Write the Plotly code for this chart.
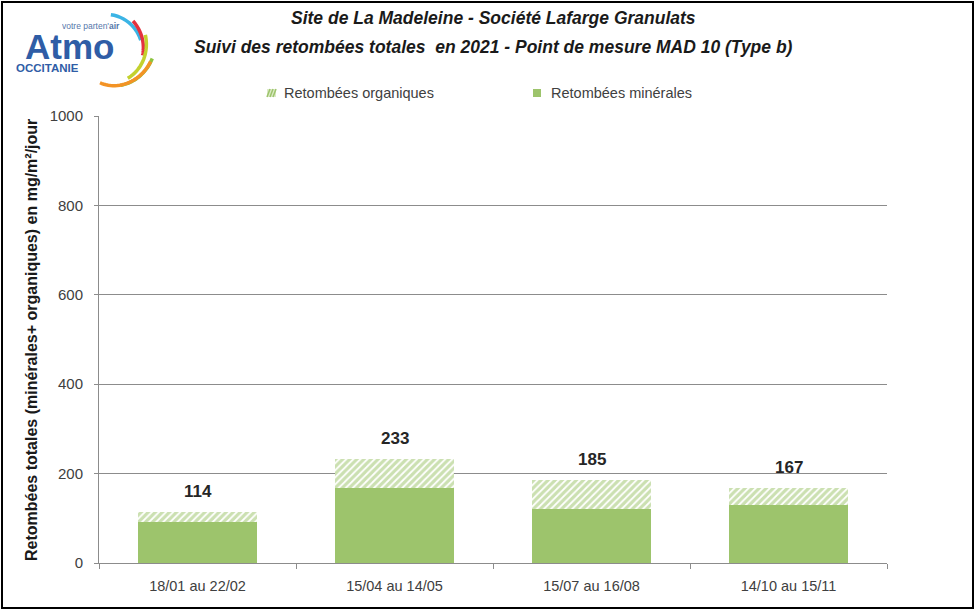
import math
import plotly.graph_objects as go

categories = ["18/01 au 22/02", "15/04 au 14/05", "15/07 au 16/08", "14/10 au 15/11"]
minerales = [92, 167, 120, 130]
organiques = [22, 66, 65, 37]
totals = [114, 233, 185, 167]
y_ticks = [0, 200, 400, 600, 800, 1000]

W, H = 976, 611
L, R, T, B = 99, 887, 116, 563
GREEN = "#9DC46C"
FONT = "Liberation Sans, Arial, sans-serif"


def px(x):
    return (x - L) / (R - L)


def py(y):
    return (B - y) / (B - T)


fig = go.Figure()
fig.add_trace(go.Bar(
    x=categories, y=minerales, name="Retombées minérales", showlegend=False,
    marker=dict(color=GREEN, line=dict(width=0)),
))
fig.add_trace(go.Bar(
    x=categories, y=organiques, name="Retombées organiques", showlegend=False,
    marker=dict(color="white", line=dict(width=0),
                pattern=dict(shape="/", fgcolor="#98C163", bgcolor="white", size=5, solidity=0.65)),
))

shapes = []
# outer frame
shapes.append(dict(type="rect", xref="paper", yref="paper",
                   x0=px(2), x1=px(973), y0=py(2), y1=py(608),
                   line=dict(color="black", width=2)))
# logo arcs (angle deg start->end, radius start->end), centre in pixels
cx, cy = 104, 50
arcs = [
    ("#3BB4E5", -79, -15, 36, 38),
    ("#E4323F", -45, 8, 41, 39),
    ("#C3D12E", -20, 50, 44, 37),
    ("#8CC43F", 10, 65, 49, 39),
    ("#F39325", 14, 97, 48, 33),
]
for col, a0, a1, r0, r1 in arcs:
    pts = []
    n = 24
    for i in range(n + 1):
        f = i / n
        a = math.radians(a0 + (a1 - a0) * f)
        r = r0 + (r1 - r0) * f
        pts.append((px(cx + r * math.cos(a)), py(cy + r * math.sin(a))))
    path = "M " + " L ".join(f"{x:.5f},{y:.5f}" for x, y in pts)
    shapes.append(dict(type="path", xref="paper", yref="paper", path=path,
                       line=dict(color=col, width=3.5)))

# manual legend swatches
shapes.append(dict(type="rect", xref="paper", yref="paper",
                   x0=px(533), x1=px(541), y0=py(97), y1=py(89),
                   fillcolor=GREEN, line=dict(width=0)))
shapes.append(dict(type="rect", xref="paper", yref="paper",
                   x0=px(267), x1=px(276), y0=py(97), y1=py(89),
                   fillcolor="#DDEBC8", line=dict(width=0)))
for off in (0, 3, 6):
    shapes.append(dict(type="line", xref="paper", yref="paper",
                       x0=px(267 + off), y0=py(97), x1=px(270 + off), y1=py(89),
                       line=dict(color=GREEN, width=1.5)))

annotations = [
    dict(text="<b><i>Site de La Madeleine - Société Lafarge Granulats</i></b>",
         x=px(493), y=py(18), xref="paper", yref="paper", showarrow=False,
         font=dict(family=FONT, size=17.5, color="#1a1a1a"), xanchor="center", yanchor="middle"),
    dict(text="<b><i>Suivi des retombées totales  en 2021 - Point de mesure MAD 10 (Type b)</i></b>",
         x=px(493), y=py(47), xref="paper", yref="paper", showarrow=False,
         font=dict(family=FONT, size=17.5, color="#1a1a1a"), xanchor="center", yanchor="middle"),
    dict(text="<b>Atmo</b>", x=px(24), y=py(46), xref="paper", yref="paper", showarrow=False,
         height=30, borderpad=0,
         font=dict(family=FONT, size=35, color="#2F5DA6"), xanchor="left", yanchor="middle"),
    dict(text="votre parten'<b>air</b>", x=px(121), y=py(26), xref="paper", yref="paper", showarrow=False,
         height=10, borderpad=0,
         font=dict(family=FONT, size=8.5, color="#5577AA"), xanchor="right", yanchor="middle"),
    dict(text="<b>OCCITANIE</b>", x=px(15), y=py(68), xref="paper", yref="paper", showarrow=False,
         height=12, borderpad=0,
         font=dict(family=FONT, size=11.5, color="#2F5DA6"), xanchor="left", yanchor="middle"),
    dict(text="Retombées organiques", x=px(282), y=py(93), xref="paper", yref="paper", showarrow=False,
         font=dict(family=FONT, size=14.5, color="#404040"), xanchor="left", yanchor="middle"),
    dict(text="Retombées minérales", x=px(549), y=py(93), xref="paper", yref="paper", showarrow=False,
         font=dict(family=FONT, size=14.5, color="#404040"), xanchor="left", yanchor="middle"),
    dict(text="<b>Retombées totales (minérales+ organiques) en mg/m²/jour</b>",
         x=px(31), y=py(340), xref="paper", yref="paper", showarrow=False, textangle=-90,
         font=dict(family=FONT, size=16, color="#1a1a1a"), xanchor="center", yanchor="middle"),
]
for c, t in zip(categories, totals):
    annotations.append(dict(text=f"<b>{t}</b>", x=c, y=t, xref="x", yref="y", showarrow=False,
                            yanchor="bottom", yshift=9,
                            font=dict(family=FONT, size=17, color="#262626")))

fig.update_layout(
    width=W, height=H,
    margin=dict(l=L, r=W - R, t=T, b=H - B, pad=0, autoexpand=False),
    barmode="stack", bargap=0.4,
    plot_bgcolor="white", paper_bgcolor="white",
    font=dict(family=FONT, size=14, color="#404040"),
    showlegend=False,
    shapes=shapes, annotations=annotations,
)
fig.update_yaxes(range=[0, 1000], tickvals=y_ticks, showgrid=True, gridcolor="#8C8C8C", gridwidth=1,
                 showline=True, linecolor="#8C8C8C", ticks="outside", ticklen=4, tickcolor="#8C8C8C",
                 ticklabelstandoff=8, automargin=False,
                 zeroline=False, tickfont=dict(size=15, color="#404040"))
fig.update_xaxes(showline=True, linecolor="#8C8C8C", ticks="outside", ticklen=5, tickcolor="#8C8C8C",
                 tickson="boundaries", ticklabelstandoff=10, automargin=False,
                 tickfont=dict(size=14.5, color="#404040"))

fig.write_html("out.html", config={"displayModeBar": False},
               post_script="document.body.style.margin='0px'; document.body.style.overflow='hidden';")
